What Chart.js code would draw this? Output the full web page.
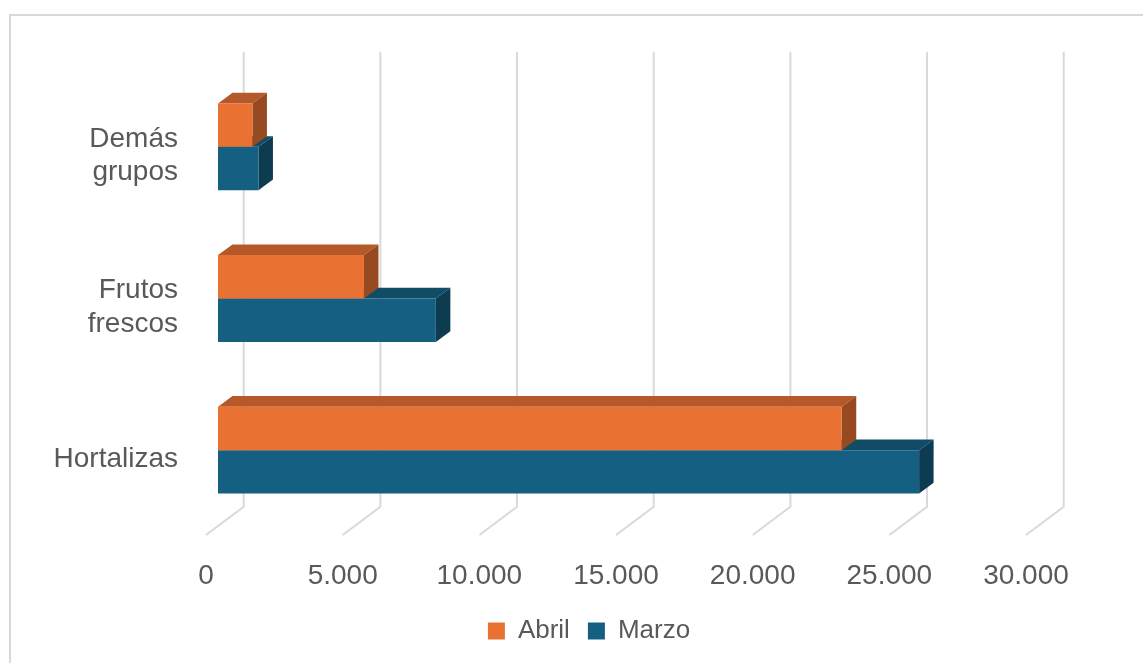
<!DOCTYPE html>
<html>
<head>
<meta charset="utf-8">
<script src="https://cdn.jsdelivr.net/npm/chart.js@4/dist/chart.umd.min.js"></script>
<style>
  html, body { margin: 0; padding: 0; background: #fff; }
  canvas { display: block; }
</style>
</head>
<body>
<canvas id="chart" width="1143" height="663"></canvas>
<script>
// values
const categories = [['Demás', 'grupos'], ['Frutos', 'frescos'], 'Hortalizas'];
const abril = [1260, 5340, 22820];
const marzo = [1480, 7970, 25650];
const xTicks = [0, 5000, 10000, 15000, 20000, 25000, 30000];

const ORANGE = '#E97132', ORANGE_TOP = '#B5592A', ORANGE_SIDE = '#974A21';
const BLUE = '#156082', BLUE_TOP = '#114C67', BLUE_SIDE = '#0D3C51';
const GRID = '#d9d9d9';
const TEXT = '#595959';

// 3d look: back wall offset, bar offset, bar depth
const WALL = { dx: 37.7, dy: -28.3 };
const SHIFT = { dx: 12, dy: -9 };
const DEPTH = { dx: 14.5, dy: -10.7 };

function fmt(v) {
  return String(v).replace(/\B(?=(\d{3})+(?!\d))/g, '.');
}

const frame = {
  id: 'frame',
  beforeDraw(chart) {
    const ctx = chart.ctx;
    ctx.save();
    ctx.strokeStyle = GRID;
    ctx.lineWidth = 2;
    ctx.strokeRect(10, 15, 1200, 700);
    ctx.restore();
  }
};

// legend sits centred on the whole frame, not just the plot box
const legendShift = {
  id: 'legendShift',
  afterLayout(chart) {
    chart.legend.left += 76;
    chart.legend.right += 76;
  }
};

const threeD = {
  id: 'threeD',
  beforeDatasetsDraw(chart) {
    const ctx = chart.ctx;
    const area = chart.chartArea;
    const xs = chart.scales.x;

    // grid lines: floor diagonal then back wall
    ctx.save();
    ctx.strokeStyle = GRID;
    ctx.lineWidth = 2;
    xs.ticks.forEach(t => {
      const px = xs.getPixelForValue(t.value);
      ctx.beginPath();
      ctx.moveTo(px, area.bottom);
      ctx.lineTo(px + WALL.dx, area.bottom + WALL.dy);
      ctx.lineTo(px + WALL.dx, area.top + WALL.dy);
      ctx.stroke();
    });
    ctx.restore();

    ctx.save();
    ctx.translate(SHIFT.dx, SHIFT.dy);
    const tops = [ORANGE_TOP, BLUE_TOP];
    const sides = [ORANGE_SIDE, BLUE_SIDE];
    // lower dataset first so upper bar covers its top face
    for (let d = chart.data.datasets.length - 1; d >= 0; d--) {
      chart.getDatasetMeta(d).data.forEach(el => {
        const p = el.getProps(['x', 'y', 'base', 'height'], true);
        const top = p.y - p.height / 2, bot = p.y + p.height / 2;
        ctx.fillStyle = tops[d];
        ctx.beginPath();
        ctx.moveTo(p.base, top);
        ctx.lineTo(p.x, top);
        ctx.lineTo(p.x + DEPTH.dx, top + DEPTH.dy);
        ctx.lineTo(p.base + DEPTH.dx, top + DEPTH.dy);
        ctx.closePath();
        ctx.fill();
        ctx.fillStyle = sides[d];
        ctx.beginPath();
        ctx.moveTo(p.x, top);
        ctx.lineTo(p.x + DEPTH.dx, top + DEPTH.dy);
        ctx.lineTo(p.x + DEPTH.dx, bot + DEPTH.dy);
        ctx.lineTo(p.x, bot);
        ctx.closePath();
        ctx.fill();
      });
    }
    // keep the shift for the front faces drawn by chart.js
  },
  afterDatasetsDraw(chart) {
    chart.ctx.restore();
  }
};

new Chart(document.getElementById('chart'), {
  type: 'bar',
  data: {
    labels: categories,
    datasets: [
      { label: 'Abril', data: abril, backgroundColor: ORANGE },
      { label: 'Marzo', data: marzo, backgroundColor: BLUE }
    ]
  },
  options: {
    indexAxis: 'y',
    responsive: false,
    devicePixelRatio: 1,
    animation: false,
    events: [],
    datasets: {
      bar: { categoryPercentage: 0.572, barPercentage: 1, clip: false }
    },
    layout: { padding: { left: 0, top: 80, right: 117, bottom: 9 } },
    scales: {
      x: {
        min: 0,
        max: 30000,
        afterBuildTicks: s => { s.ticks = xTicks.map(v => ({ value: v })); },
        afterFit: s => { s.height = 65; },
        grid: { display: false, drawTicks: false },
        border: { display: false },
        ticks: {
          padding: 24,
          color: TEXT,
          font: { family: 'Liberation Sans', size: 28 },
          callback: v => fmt(v)
        }
      },
      y: {
        afterFit: s => { s.width = 206; },
        grid: { display: false, drawTicks: false },
        border: { display: false },
        ticks: {
          padding: 28,
          color: TEXT,
          font: { family: 'Liberation Sans', size: 28, lineHeight: 1.2 }
        }
      }
    },
    plugins: {
      tooltip: { enabled: false },
      legend: {
        position: 'bottom',
        labels: {
          boxWidth: 17,
          boxHeight: 17,
          padding: 18,
          color: TEXT,
          font: { family: 'Liberation Sans', size: 26 }
        }
      }
    }
  },
  plugins: [frame, legendShift, threeD]
});
</script>
</body>
</html>
